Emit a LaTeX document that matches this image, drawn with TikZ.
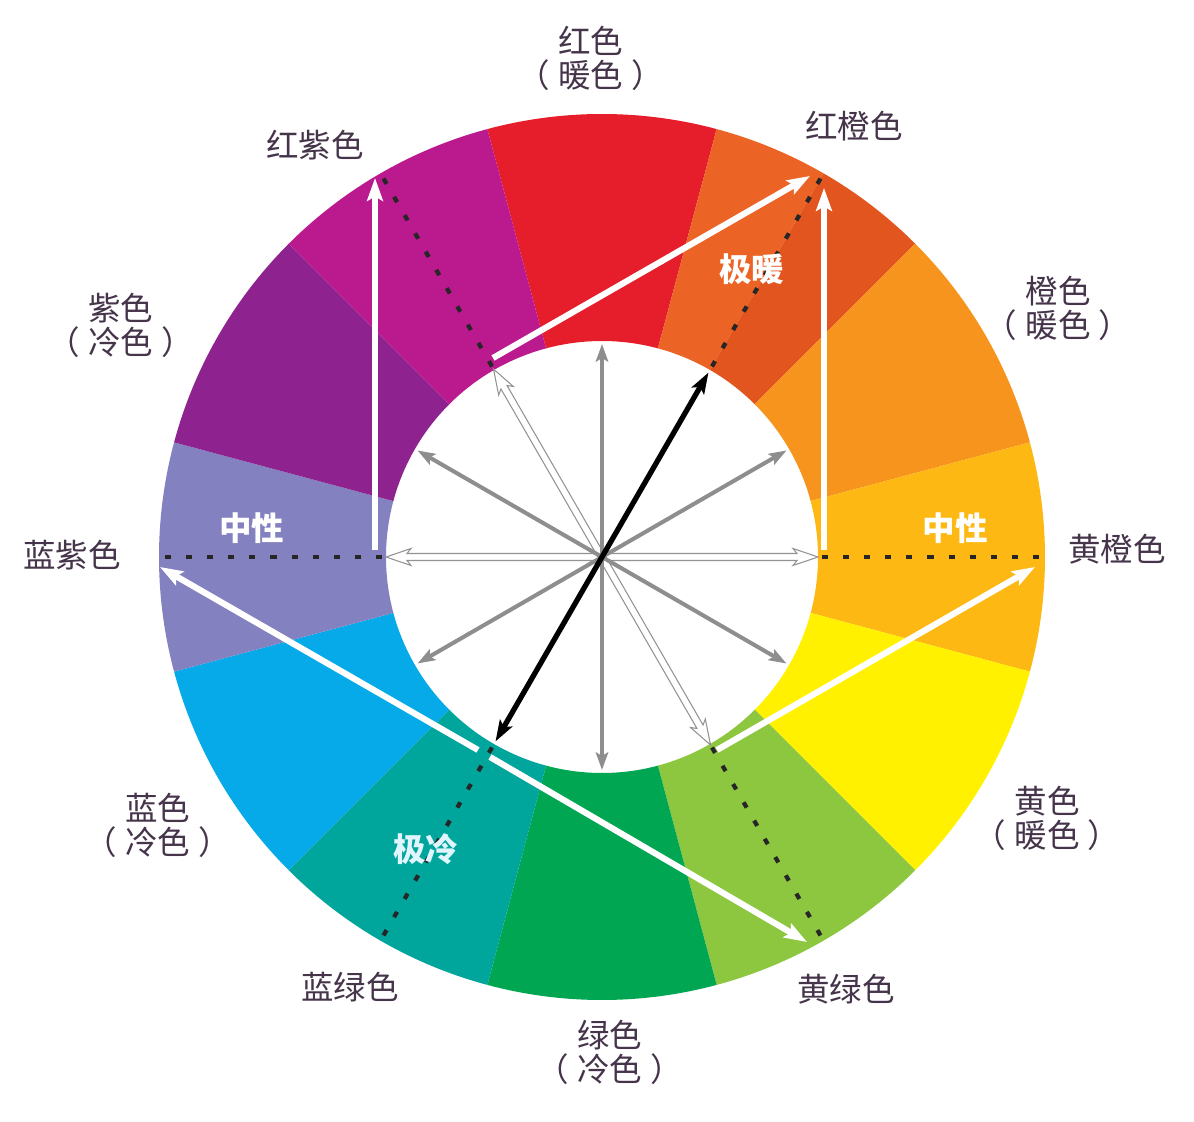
\documentclass[tikz,border=0pt]{standalone}
\usepackage{fontspec}
\setmainfont{Noto Sans CJK SC}
\usetikzlibrary{arrows.meta}

\definecolor{cred}{HTML}{E61D2B}
\definecolor{credorange}{HTML}{EC6425}
\definecolor{credorangedk}{HTML}{E3551E}
\definecolor{corange}{HTML}{F7941D}
\definecolor{cyelloworange}{HTML}{FDB813}
\definecolor{cyellow}{HTML}{FFF100}
\definecolor{cyellowgreen}{HTML}{8DC63F}
\definecolor{cgreen}{HTML}{00A651}
\definecolor{cbluegreen}{HTML}{00A59C}
\definecolor{cblue}{HTML}{07AAE8}
\definecolor{cblueviolet}{HTML}{8481C0}
\definecolor{cviolet}{HTML}{8E2390}
\definecolor{credviolet}{HTML}{BA1A8E}
\definecolor{labtext}{HTML}{45344A}
\definecolor{arrgray}{HTML}{8E8E8E}

\newcommand{\pl}{（\hspace{0.25em}}
\newcommand{\pr}{\hspace{0.25em}）}

\begin{document}
\begin{tikzpicture}[x=0.02cm,y=0.02cm,
  lab/.style={text=labtext,font=\fontsize{18.5}{19.3}\selectfont,align=center,inner sep=0pt},
  hot/.style={text=white,font=\fontsize{18.5}{19.3}\selectfont\bfseries,inner sep=0pt},
  graybar/.style={draw=arrgray,line width=2.3pt,{Stealth[length=10pt,width=7pt,inset=2pt]}-{Stealth[length=10pt,width=7pt,inset=2pt]}},
  blackbar/.style={draw=black,line width=3pt,{Stealth[length=12pt,width=8pt,inset=2.5pt]}-{Stealth[length=12pt,width=8pt,inset=2.5pt]}},
  whitebar/.style={draw=white,line width=3.5pt,-{Stealth[length=13pt,width=9pt,inset=2.5pt]}},
  dotline/.style={draw=black!85,line width=2.4pt,dash pattern=on 3.5pt off 8.5pt},
  hollow/.style={draw=gray!85,fill=white,line width=0.6pt}]
\useasboundingbox (-602,-565) rectangle (592,557);

% wheel
\fill[cred] (75:443) arc (75:105:443) -- (105:216) arc (105:75:216) -- cycle; %red
\fill[credorange] (60:443) arc (60:75:443) -- (75:216) arc (75:60:216) -- cycle; %red-orange
\fill[credorangedk] (45:443) arc (45:60:443) -- (60:216) arc (60:45:216) -- cycle; %red-orange dark
\fill[corange] (15:443) arc (15:45:443) -- (45:216) arc (45:15:216) -- cycle; %orange
\fill[cyelloworange] (-15:443) arc (-15:15:443) -- (15:216) arc (15:-15:216) -- cycle; %yellow-orange
\fill[cyellow] (-45:443) arc (-45:-15:443) -- (-15:216) arc (-15:-45:216) -- cycle; %yellow
\fill[cyellowgreen] (-75:443) arc (-75:-45:443) -- (-45:216) arc (-45:-75:216) -- cycle; %yellow-green
\fill[cgreen] (-105:443) arc (-105:-75:443) -- (-75:216) arc (-75:-105:216) -- cycle; %green
\fill[cbluegreen] (-135:443) arc (-135:-105:443) -- (-105:216) arc (-105:-135:216) -- cycle; %blue-green
\fill[cblue] (-165:443) arc (-165:-135:443) -- (-135:216) arc (-135:-165:216) -- cycle; %blue
\fill[cblueviolet] (165:443) arc (165:195:443) -- (195:216) arc (195:165:216) -- cycle; %blue-violet
\fill[cviolet] (135:443) arc (135:165:443) -- (165:216) arc (165:135:216) -- cycle; %violet
\fill[credviolet] (105:443) arc (105:135:443) -- (135:216) arc (135:105:216) -- cycle; %red-violet

% hollow arrows
\draw[hollow] (-216,0) -- (-191,8.5) -- (-195,3.5) -- (195,3.5) -- (191,8.5) -- (216,0) -- (191,-8.5) -- (195,-3.5) -- (-195,-3.5) -- (-191,-8.5) -- cycle; %horizontal
\draw[hollow,rotate=120] (-217,0) -- (-192,8.5) -- (-196,3.5) -- (196,3.5) -- (192,8.5) -- (217,0) -- (192,-8.5) -- (196,-3.5) -- (-196,-3.5) -- (-192,-8.5) -- cycle; %120

% gray and black arrows
\draw[graybar] (270:213) -- (90:213);
\draw[graybar] (210:213) -- (30:213);
\draw[graybar] (330:213) -- (150:213);
\draw[blackbar] (240:213) -- (60:213);

% white arrows
\draw[whitebar] (-227,7) -- (-227,379); %left up
\draw[whitebar] (222,7) -- (222,369); %right up
\draw[whitebar] (-109,199) -- (208,381); %top
\draw[whitebar] (115,-193) -- (433,-10); %right
\draw[whitebar] (-124,-193) -- (-442,-10); %long, left part
\draw[whitebar] (-112,-200) -- (205,-385); %long, right part

% dotted lines
\draw[dotline] (0:220) -- (0:441);
\draw[dotline] (60:220) -- (60:441);
\draw[dotline] (120:220) -- (120:441);
\draw[dotline] (180:220) -- (180:441);
\draw[dotline] (240:220) -- (240:441);
\draw[dotline] (300:220) -- (300:441);

% labels
\node[lab] (lred) at (-11,499) {红色\\\pl 暖色\pr};
\node[lab] (lredorange) at (252,431) {红橙色};
\node[lab] (lorange) at (456,249) {橙色\\\pl 暖色\pr};
\node[lab] (lyelloworange) at (515,8) {黄橙色};
\node[lab] (lyellow) at (445,-261) {黄色\\\pl 暖色\pr};
\node[lab] (lyellowgreen) at (244,-432) {黄绿色};
\node[lab] (lgreen) at (8,-495) {绿色\\\pl 冷色\pr};
\node[lab] (lbluegreen) at (-252,-430) {蓝绿色};
\node[lab] (lblue) at (-444,-268) {蓝色\\\pl 冷色\pr};
\node[lab] (lblueviolet) at (-530,2) {蓝紫色};
\node[lab] (lviolet) at (-481,232) {紫色\\\pl 冷色\pr};
\node[lab] (lredviolet) at (-287,412) {红紫色};

\node[hot] (hwarm) at (150,288) {极暖};
\node[hot] (hneutl) at (-350,29) {中性};
\node[hot] (hneutr) at (353,29) {中性};
\node[hot,text=cyan!12] (hcold) at (-176,-292) {极冷};
\end{tikzpicture}
\end{document}
